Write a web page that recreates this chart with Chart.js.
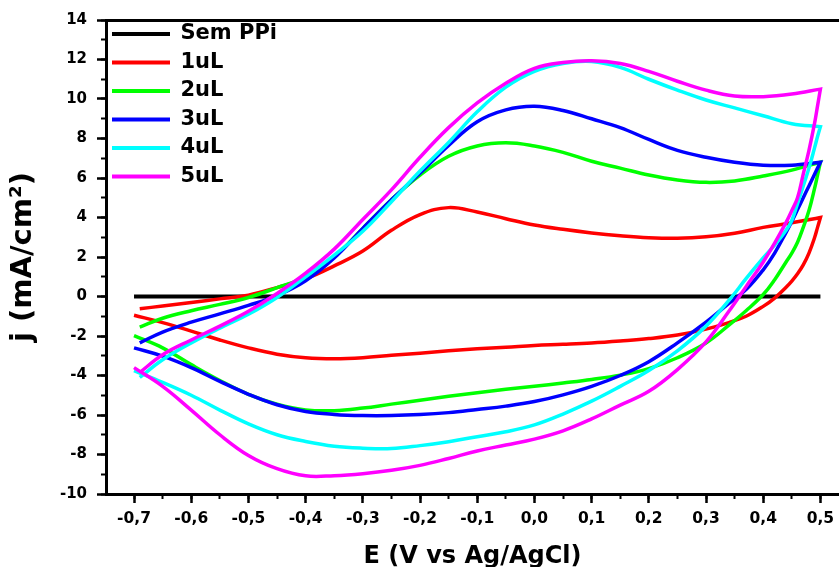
<!DOCTYPE html>
<html>
<head>
<meta charset="utf-8">
<title>Voltametria cíclica</title>
<script src="https://cdn.jsdelivr.net/npm/chart.js@4.4.1/dist/chart.umd.min.js"></script>
<style>
  html, body { margin: 0; padding: 0; background: #fff; }
  #cv { display: block; }
</style>
</head>
<body>
<canvas id="cv" width="839" height="567"></canvas>
<script>
// ---- data (E in V vs Ag/AgCl, j in mA/cm2) ----
const seriesLabels = ["Sem PPi", "1uL", "2uL", "3uL", "4uL", "5uL"];
const seriesColors = ["#000000", "#ff0000", "#00ff00", "#0000ff", "#00ffff", "#ff00ff"];

const xMajorTicks = [-0.7, -0.6, -0.5, -0.4, -0.3, -0.2, -0.1, 0, 0.1, 0.2, 0.3, 0.4, 0.5];
const yMajorTicks = [-10, -8, -6, -4, -2, 0, 2, 4, 6, 8, 10, 12, 14];

// anodic sweep, -0.69 -> 0.5 V
const potentialForward = [-0.69, -0.65, -0.6, -0.55, -0.5, -0.45, -0.4, -0.35, -0.3, -0.25, -0.2, -0.15,
  -0.1, -0.05, 0, 0.05, 0.1, 0.15, 0.2, 0.25, 0.3, 0.35, 0.4, 0.45, 0.5];
// cathodic sweep, starts again at the 0.5 V turning point and runs back to -0.7 V
const potentialReverse = [0.5, 0.495, 0.49, 0.48, 0.47, 0.46, 0.45, 0.44, 0.42, 0.4, 0.37, 0.34, 0.3, 0.25,
  0.2, 0.15, 0.1, 0.05, 0, -0.05, -0.1, -0.15, -0.2, -0.25, -0.3, -0.35, -0.4, -0.45, -0.5, -0.55,
  -0.6, -0.65, -0.7];

const blankPotential = [-0.7, 0.5];
const blankCurrent = [0, 0];

const j1uLForward = [-0.62, -0.48, -0.3, -0.12, 0.07, 0.45, 0.9, 1.55, 2.3, 3.35, 4.15, 4.5,
  4.28, 3.94, 3.62, 3.4, 3.22, 3.08, 2.98, 2.95, 3.02, 3.2, 3.5, 3.73, 4.0];
const j1uLReverse = [4.0, 3.5, 3.0, 2.2, 1.6, 1.15, 0.78, 0.47, -0.08, -0.5, -1.0, -1.32, -1.65, -1.95,
  -2.13, -2.25, -2.35, -2.42, -2.48, -2.57, -2.65, -2.75, -2.87, -2.98, -3.1, -3.15, -3.1, -2.92,
  -2.6, -2.2, -1.75, -1.32, -0.95];

const j2uLForward = [-1.55, -1.1, -0.72, -0.4, -0.05, 0.45, 1.0, 2.0, 3.45, 4.9, 6.15, 7.1,
  7.62, 7.78, 7.62, 7.3, 6.85, 6.5, 6.15, 5.9, 5.78, 5.85, 6.1, 6.4, 6.8];
const j2uLReverse = [6.8, 6.15, 5.5, 4.35, 3.5, 2.75, 2.2, 1.75, 0.85, 0.1, -0.72, -1.45, -2.35, -3.1,
  -3.65, -3.98, -4.2, -4.38, -4.55, -4.7, -4.87, -5.05, -5.25, -5.45, -5.65, -5.78, -5.74, -5.45,
  -4.95, -4.25, -3.45, -2.6, -1.98];

const j3uLForward = [-2.35, -1.8, -1.3, -0.88, -0.45, 0.05, 0.8, 1.95, 3.45, 4.9, 6.25, 7.65,
  8.85, 9.45, 9.63, 9.42, 9.0, 8.55, 7.95, 7.4, 7.05, 6.8, 6.65, 6.65, 6.8];
const j3uLReverse = [6.8, 6.5, 6.2, 5.6, 5.0, 4.4, 3.8, 3.25, 2.2, 1.35, 0.35, -0.35, -1.3, -2.35,
  -3.3, -4.0, -4.55, -4.98, -5.32, -5.55, -5.72, -5.88, -5.98, -6.03, -6.03, -5.97, -5.82, -5.48,
  -4.95, -4.3, -3.6, -3.02, -2.6];

const j4uLForward = [-4.1, -3.2, -2.35, -1.6, -0.9, -0.05, 1.0, 2.1, 3.3, 4.8, 6.35, 7.8,
  9.35, 10.6, 11.4, 11.8, 11.9, 11.6, 11.0, 10.45, 9.95, 9.55, 9.15, 8.75, 8.6];
const j4uLReverse = [8.6, 8.1, 7.55, 6.5, 5.6, 4.7, 3.85, 3.35, 2.6, 1.95, 0.9, -0.2, -1.5, -2.75,
  -3.75, -4.55, -5.3, -5.95, -6.5, -6.85, -7.1, -7.35, -7.55, -7.7, -7.68, -7.58, -7.34, -7.0,
  -6.45, -5.75, -5.0, -4.35, -3.75];

const j5uLForward = [-3.85, -2.95, -2.2, -1.5, -0.75, 0.15, 1.18, 2.4, 3.9, 5.4, 7.05, 8.55,
  9.8, 10.8, 11.55, 11.85, 11.94, 11.8, 11.4, 10.9, 10.45, 10.15, 10.12, 10.25, 10.5];
const j5uLReverse = [10.5, 9.65, 8.8, 7.4, 6.2, 5.0, 4.35, 3.75, 2.7, 1.75, 0.5, -0.75, -2.3, -3.7,
  -4.8, -5.5, -6.2, -6.8, -7.22, -7.52, -7.82, -8.2, -8.55, -8.8, -8.97, -9.07, -9.08, -8.72,
  -8.05, -7.0, -5.75, -4.55, -3.6];

const X_MIN = -0.749, X_MAX = 0.5325;
const Y_MIN = -10, Y_MAX = 14;

function loop(fwd, rev) {
  const pts = fwd.map((j, i) => ({ x: potentialForward[i], y: j }));
  return pts.concat(rev.map((j, i) => ({ x: potentialReverse[i], y: j })));
}

function commaLabel(v) {
  if (Math.abs(v) < 1e-9) return "0,0";
  return v.toFixed(1).replace(".", ",");
}

const curves = [
  blankPotential.map((e, i) => ({ x: e, y: blankCurrent[i] })),
  loop(j1uLForward, j1uLReverse),
  loop(j2uLForward, j2uLReverse),
  loop(j3uLForward, j3uLReverse),
  loop(j4uLForward, j4uLReverse),
  loop(j5uLForward, j5uLReverse)
];

Chart.defaults.font.family = "'DejaVu Sans', sans-serif";
Chart.defaults.font.weight = "bold";
Chart.defaults.color = "#000";

const zeroHeight = (s) => { s.height = 0; s.paddingLeft = 0; s.paddingRight = 0; };
const zeroWidth = (s) => { s.width = 0; s.paddingTop = 0; s.paddingBottom = 0; };

// pin the in-plot legend to the top-left corner like the original
const legendNudge = {
  id: "legendNudge",
  afterLayout(chart) {
    if (!chart.legend) return;
    chart.legend.left = chart.chartArea.left - 1.5;
    chart.legend.top = chart.chartArea.top - 4;
  }
};

new Chart(document.getElementById("cv"), {
  type: "scatter",
  data: {
    datasets: curves.map((pts, i) => ({
      label: seriesLabels[i],
      data: pts,
      showLine: true,
      borderColor: seriesColors[i],
      backgroundColor: seriesColors[i],
      borderWidth: i === 0 ? 4 : 3.5,
      pointRadius: 0,
      tension: 0.4,
      fill: false,
      order: seriesLabels.length - 1 - i
    }))
  },
  options: {
    responsive: false,
    animation: false,
    devicePixelRatio: 1,
    layout: { padding: { top: 20, left: 0, right: 0, bottom: 0 } },
    plugins: {
      tooltip: { enabled: false },
      legend: {
        position: "chartArea",
        align: "start",
        labels: {
          font: { size: 21, weight: "bold" },
          color: "#000",
          boxWidth: 58,
          boxHeight: 4,
          padding: 7.5,
          sort: (a, b) => a.datasetIndex - b.datasetIndex,
          generateLabels: (chart) =>
            Chart.defaults.plugins.legend.labels.generateLabels(chart).map((it) => {
              it.lineWidth = 0;
              it.fillStyle = it.strokeStyle;
              return it;
            })
        }
      }
    },
    scales: {
      x: {
        type: "linear",
        position: "bottom",
        weight: 1,
        min: X_MIN,
        max: X_MAX,
        afterBuildTicks: (s) => { s.ticks = xMajorTicks.map((v) => ({ value: v })); },
        ticks: {
          callback: (v) => commaLabel(v),
          font: { size: 15.5, weight: "bold" },
          color: "#000",
          padding: 7,
          maxRotation: 0,
          autoSkip: false
        },
        grid: { drawOnChartArea: false, drawTicks: true, tickLength: 9, tickWidth: 2.5, tickColor: "#000" },
        border: { display: true, color: "#000", width: 3 },
        title: {
          display: true,
          text: "E (V vs Ag/AgCl)",
          font: { size: 24, weight: "bold" },
          color: "#000",
          padding: { top: 0, bottom: -4 }
        },
        afterFit: (s) => { s.height = 73; s.paddingLeft = 0; s.paddingRight = 0; }
      },
      xMinor: {
        type: "linear",
        position: "bottom",
        weight: 0,
        min: X_MIN,
        max: X_MAX,
        ticks: { display: false, stepSize: 0.05, includeBounds: false },
        grid: { drawOnChartArea: false, drawTicks: true, tickLength: 5, tickWidth: 2, tickColor: "#000" },
        border: { display: false },
        afterFit: zeroHeight
      },
      xTop: {
        type: "linear",
        position: "top",
        min: X_MIN,
        max: X_MAX,
        ticks: { display: false },
        grid: { drawOnChartArea: false, drawTicks: false },
        border: { display: true, color: "#000", width: 3 },
        afterFit: zeroHeight
      },
      y: {
        type: "linear",
        position: "left",
        weight: 1,
        min: Y_MIN,
        max: Y_MAX,
        afterBuildTicks: (s) => { s.ticks = yMajorTicks.map((v) => ({ value: v })); },
        ticks: {
          font: { size: 15, weight: "bold" },
          color: "#000",
          padding: 10,
          autoSkip: false
        },
        grid: { drawOnChartArea: false, drawTicks: true, tickLength: 9, tickWidth: 2.5, tickColor: "#000" },
        border: { display: true, color: "#000", width: 3 },
        title: {
          display: true,
          text: "j (mA/cm²)",
          font: { size: 29, weight: "bold" },
          color: "#000",
          padding: { top: 6, bottom: 0 }
        },
        afterFit: (s) => { s.width = 106; s.paddingTop = 0; s.paddingBottom = 0; }
      },
      yMinor: {
        type: "linear",
        position: "left",
        weight: 0,
        min: Y_MIN,
        max: Y_MAX,
        ticks: { display: false, stepSize: 1, includeBounds: false },
        grid: { drawOnChartArea: false, drawTicks: true, tickLength: 5, tickWidth: 2, tickColor: "#000" },
        border: { display: false },
        afterFit: zeroWidth
      }
    }
  },
  plugins: [legendNudge]
});
</script>
</body>
</html>
